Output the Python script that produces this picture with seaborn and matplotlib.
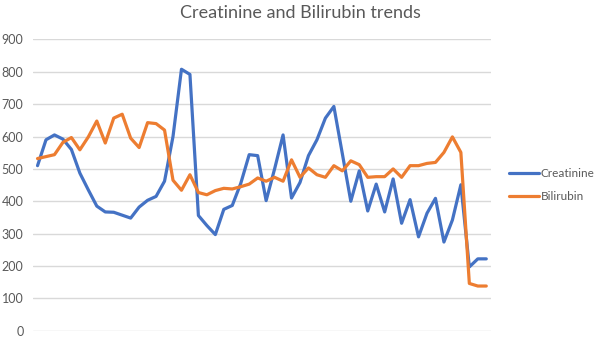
import numpy as np
import pandas as pd
import matplotlib
matplotlib.use('Agg')
import matplotlib.pyplot as plt
import seaborn as sns

# values
creatinine = [510, 590, 605, 592, 560, 487, 435, 385, 367, 366,
              357, 348, 382, 403, 415, 462, 600, 808, 792, 356,
              325, 297, 375, 387, 455, 544, 541, 402, 500, 605,
              410, 458, 541, 590, 657, 693, 547, 400, 494, 370,
              453, 367, 469, 332, 405, 290, 363, 409, 274, 342,
              451, 197, 222, 222]
bilirubin = [532, 538, 544, 582, 597, 559, 599, 648, 580, 657,
             669, 595, 566, 643, 640, 620, 465, 434, 482, 427,
             420, 433, 440, 438, 445, 453, 472, 462, 474, 462,
             528, 474, 503, 482, 474, 510, 494, 525, 513, 474,
             476, 476, 500, 474, 510, 510, 517, 520, 551, 599,
             551, 146, 138, 138]
y_ticks = [0, 100, 200, 300, 400, 500, 600, 700, 800, 900]

n = len(creatinine)
df = pd.DataFrame({
    'idx': list(range(n)) * 2,
    'value': creatinine + bilirubin,
    'series': ['Creatinine'] * n + ['Bilirubin'] * n,
})

sns.set_style('white')
plt.rcParams['font.family'] = ['Lato', 'DejaVu Sans']

fig = plt.figure(figsize=(6, 3.43), dpi=100)
ax = fig.add_axes([0.0555, 0.0359, 0.762, 0.849])

sns.lineplot(data=df, x='idx', y='value', hue='series',
             palette={'Creatinine': '#4472C4', 'Bilirubin': '#ED7D31'},
             linewidth=2.3, ax=ax, legend=True)

ax.set_xlim(-0.5, n - 0.5)
ax.set_ylim(0, 900)
ax.set_yticks(y_ticks)
ax.set_yticklabels([str(t) for t in y_ticks], fontsize=9, color='#595959')
ax.set_xticks([])
ax.set_xlabel('')
ax.set_ylabel('')
ax.tick_params(axis='y', length=0, pad=7)
ax.grid(axis='y', color='#d9d9d9', linewidth=1)
ax.set_axisbelow(True)
for s in ax.spines.values():
    s.set_visible(False)

fig.suptitle('Creatinine and Bilirubin trends', x=0.5, y=0.985,
             fontsize=13, color='#595959')

leg = ax.legend(loc='center left', bbox_to_anchor=(0.848, 0.46),
                bbox_transform=fig.transFigure, frameon=False,
                borderpad=0, borderaxespad=0,
                fontsize=8.5, handlelength=2.6, handletextpad=0.1,
                labelspacing=1.0, labelcolor='#595959')
for line in leg.get_lines():
    line.set_linewidth(2.3)

fig.savefig('out.png', dpi=100)
